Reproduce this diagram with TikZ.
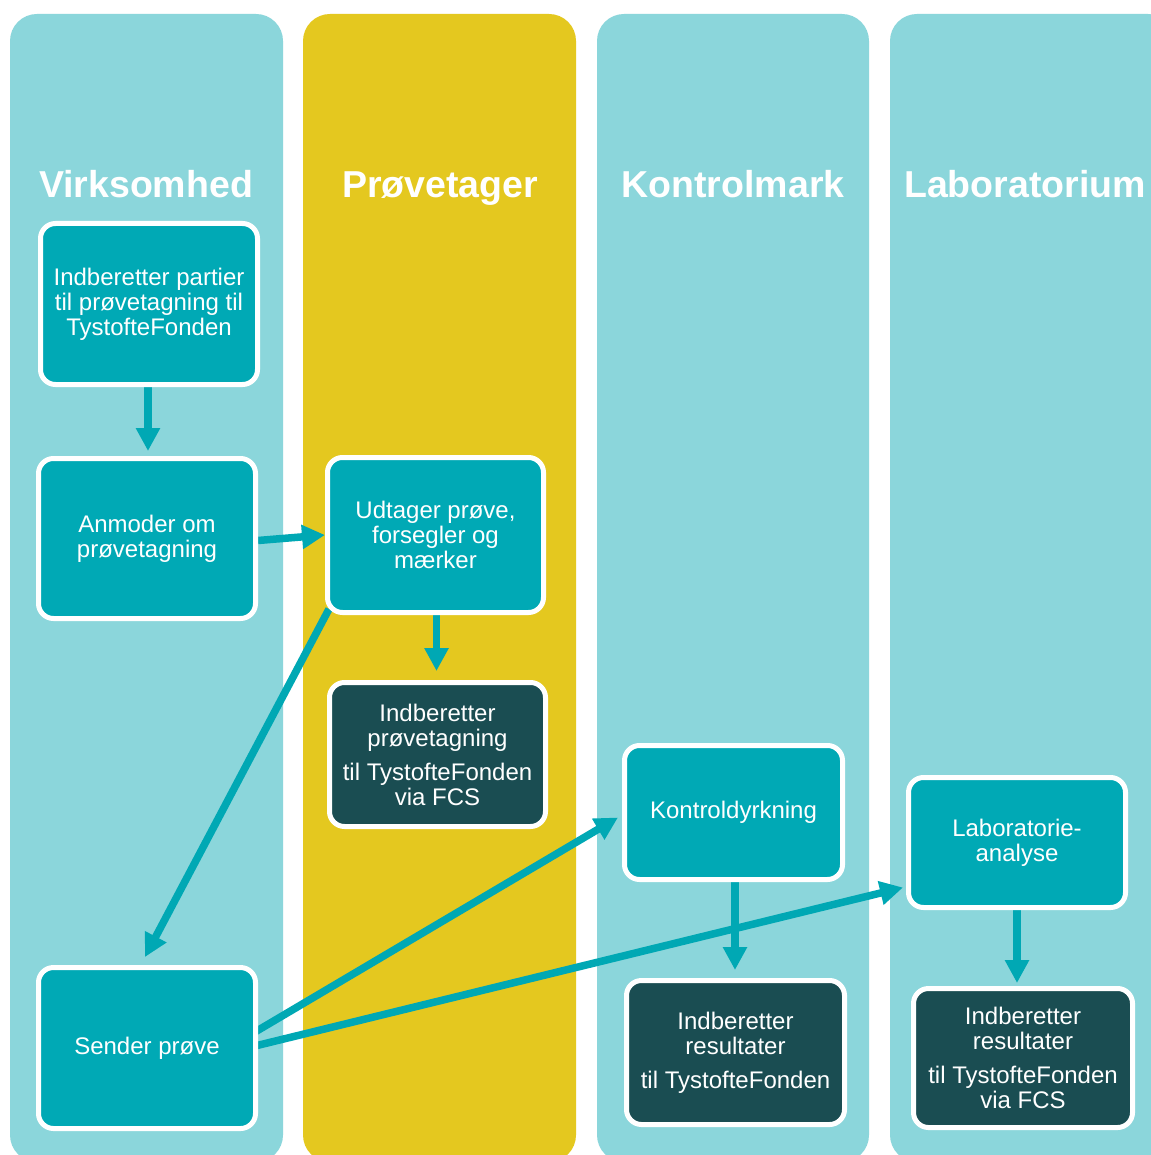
\documentclass[tikz,border=0pt]{standalone}
\usepackage{fontspec}
\setmainfont{Liberation Sans}
\usetikzlibrary{arrows.meta,calc}
\definecolor{colbg}{HTML}{8BD6DB}
\definecolor{colyel}{HTML}{E4C81F}
\definecolor{boxteal}{HTML}{00A9B5}
\definecolor{boxdark}{HTML}{1A4D52}
\definecolor{arrteal}{HTML}{00A8B4}
\pgfdeclarelayer{cols}
\pgfdeclarelayer{edges}
\pgfsetlayers{cols,edges,main}
\tikzset{
  lane/.style={rounded corners=27pt},
  lanetitle/.style={anchor=base,text=white,font=\fontsize{37.5}{40}\selectfont\bfseries},
  stepbox/.style={draw=white,line width=5pt,rounded corners=15pt,fill=boxteal,text=white,
    align=center,font=\fontsize{24}{25}\selectfont,inner sep=4pt},
  darkbox/.style={stepbox,fill=boxdark},
  flow/.style={draw=arrteal,line width=7.5pt,-{Triangle[width=23pt,length=23pt]}},
}
\begin{document}
\begin{tikzpicture}[x=1pt,y=-1pt]
\useasboundingbox (0,0) rectangle (1150,1155);
\clip (0,0) rectangle (1150,1155);
% nodes
\node[stepbox,minimum width=217pt,minimum height=161pt] (b1) at (149,304) {Indberetter partier\\til prøvetagning til\\TystofteFonden};
\node[stepbox,minimum width=217pt,minimum height=160pt] (b2) at (147,538.5) {Anmoder om\\prøvetagning};
\node[stepbox,minimum width=216pt,minimum height=155pt] (b3) at (435.5,535) {Udtager prøve,\\forsegler og\\mærker};
\node[darkbox,minimum width=216pt,minimum height=144pt] (b4) at (437.5,754.5) {Indberetter\\prøvetagning\\[9pt]til TystofteFonden\\via FCS};
\node[stepbox,minimum width=218pt,minimum height=134pt] (b5) at (733.5,812.5) {Kontroldyrkning};
\node[darkbox,minimum width=218pt,minimum height=144pt] (b6) at (735.5,1052.5) {Indberetter\\resultater\\[9pt]til TystofteFonden};
\node[stepbox,minimum width=217pt,minimum height=130pt] (b7) at (1017,842.5) {Laboratorie-\\analyse};
\node[darkbox,minimum width=219pt,minimum height=139pt] (b8) at (1023,1058) {Indberetter\\resultater\\[9pt]til TystofteFonden\\via FCS};
\node[stepbox,minimum width=217pt,minimum height=161pt] (b9) at (147,1048) {Sender prøve};
% lanes
\begin{pgfonlayer}{cols}
\fill[white] (0,0) rectangle (1150,1155);
\fill[colbg,lane] (10,14) rectangle (283,1162);
\fill[colyel,lane] (303,14) rectangle (576,1162);
\fill[colbg,lane] (597,14) rectangle (869,1162);
\fill[colbg,lane] (890,14) rectangle (1175,1162);
\node[lanetitle] (t1) at (146,198) {Virksomhed};
\node[lanetitle] (t2) at (440,198) {Prøvetager};
\node[lanetitle] (t3) at (733,198) {Kontrolmark};
\node[lanetitle] (t4) at (1025,198) {Laboratorium};
\end{pgfonlayer}
% connectors
\begin{pgfonlayer}{edges}
\coordinate (s1) at ($(b1.south)+(-1,0)$);
\draw[flow,shorten >=5pt] (s1) -- (s1 |- b2.north);
\draw[flow] ($(b2.east)+(0,2)$) -- (b3.west);
\coordinate (s3) at ($(b3.south)+(1,0)$);
\draw[flow,shorten >=9pt] (s3) -- (s3 |- b4.north);
\coordinate (d1) at ($(b9.north)+(-2,-8)$);
\draw[flow] ($(b3.south west)+(4,-6)$) -- (d1);
\coordinate (d2) at ($(b5.west)+(-4,5)$);
\coordinate (d3) at ($(b7.west)+(-3,45)$);
\draw[flow] ($(b9.east)+(-3,-16)$) -- (d2);
\draw[flow] ($(b9.east)+(-3,-2)$) -- (d3);
\coordinate (s5) at ($(b5.south)+(1.5,0)$);
\draw[flow,shorten >=8pt] (s5) -- (s5 |- b6.north);
\draw[flow,shorten >=3pt] (b7.south) -- (b7.south |- b8.north);
\end{pgfonlayer}
\end{tikzpicture}
\end{document}
